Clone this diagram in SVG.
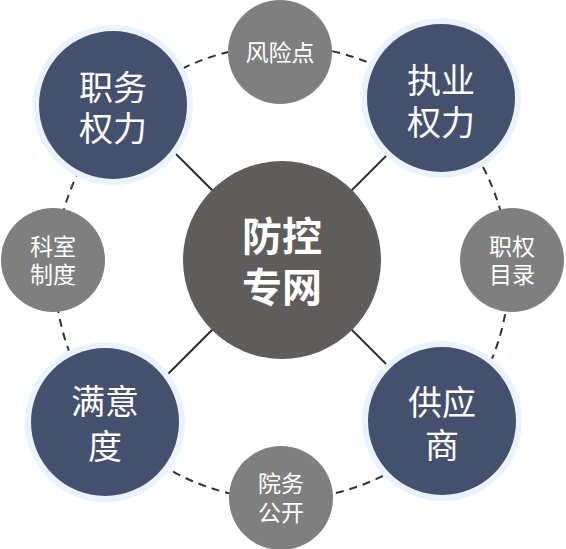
<svg xmlns="http://www.w3.org/2000/svg" width="566" height="549" viewBox="0 0 566 549">
<style>
.big-ring{fill:#E8F3FE}
.big{fill:#44516E}
.small{fill:#7F7F7F}
.hub{fill:#5F5D5B}
text{font-family:"Noto Sans CJK SC","Noto Sans",sans-serif;fill:#FFFFFF;text-anchor:middle;dominant-baseline:central}
.tb{font-size:34px}
.ts{font-size:23px}
.th{font-size:40px;font-weight:bold}
.dash{fill:none;stroke:#333333;stroke-width:2;stroke-dasharray:8 6}
.link{stroke:#2F2F2F;stroke-width:2}
</style>
<rect width="566" height="549" fill="#FFFFFF"/>
<g id="connectors">
<circle class="dash" cx="282" cy="272.5" r="227"/>
<line class="link" x1="150" y1="128" x2="414" y2="392"/>
<line class="link" x1="414" y1="128" x2="150" y2="392"/>
</g>
<g id="hub">
<circle class="hub" cx="282" cy="260" r="99"/>
<text class="th" x="282" y="234">防控<tspan x="282" dy="51">专网</tspan></text>
</g>
<g id="node-zhiwu">
<circle class="big-ring" cx="113" cy="105" r="80"/>
<circle class="big" cx="113" cy="105" r="74"/>
<text class="tb" x="113" y="85">职务<tspan x="113" dy="41">权力</tspan></text>
</g>
<g id="node-zhiye">
<circle class="big-ring" cx="441" cy="98" r="80"/>
<circle class="big" cx="441" cy="98" r="74"/>
<text class="tb" x="441" y="78">执业<tspan x="441" dy="42">权力</tspan></text>
</g>
<g id="node-manyidu">
<circle class="big-ring" cx="105" cy="422" r="80"/>
<circle class="big" cx="105" cy="422" r="74"/>
<text class="tb" x="105" y="399">满意<tspan x="105" dy="45">度</tspan></text>
</g>
<g id="node-gongying">
<circle class="big-ring" cx="442" cy="421" r="80"/>
<circle class="big" cx="442" cy="421" r="74"/>
<text class="tb" x="442" y="400">供应<tspan x="442" dy="43">商</tspan></text>
</g>
<g id="node-fengxian">
<circle class="small" cx="280" cy="52" r="52"/>
<text class="ts" x="280" y="51">风险点</text>
</g>
<g id="node-zhiquan">
<circle class="small" cx="512" cy="260" r="52"/>
<text class="ts" x="512" y="245">职权<tspan x="512" dy="28">目录</tspan></text>
</g>
<g id="node-keshi">
<circle class="small" cx="53" cy="260" r="52"/>
<text class="ts" x="53" y="245">科室<tspan x="53" dy="28">制度</tspan></text>
</g>
<g id="node-yuanwu">
<circle class="small" cx="281" cy="498" r="52"/>
<text class="ts" x="281" y="482">院务<tspan x="281" dy="29">公开</tspan></text>
</g>
</svg>
